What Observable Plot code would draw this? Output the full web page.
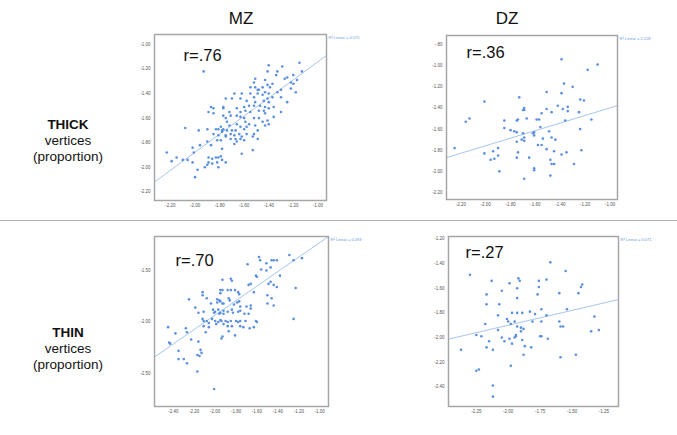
<!DOCTYPE html>
<html><head><meta charset="utf-8">
<script src="https://cdn.jsdelivr.net/npm/d3@7"></script>
<script src="https://cdn.jsdelivr.net/npm/@observablehq/plot@0.6"></script>
<style>
body{margin:0;background:#fff;font-family:"Liberation Sans",Arial,sans-serif;}
#wrap{position:relative;width:677px;height:435px;overflow:hidden;background:#fff;}
.abs{position:absolute;}
.coltitle{font-size:17px;color:#111;transform:translateX(-50%);white-space:nowrap;}
.rowtitle{font-size:13.5px;line-height:16px;color:#111;text-align:center;width:140px;}
.rowtitle b{font-weight:bold;}
#sep{left:0;top:220px;width:677px;height:1px;background:#b5b5b5;}
</style></head><body><div id="wrap"></div>
<script>
// ---------- text ----------
const columnTitles = ["MZ", "DZ"];
const rowTitles = [["THICK", "vertices", "(proportion)"], ["THIN", "vertices", "(proportion)"]];
const rLabels = ["r=.76", "r=.36", "r=.70", "r=.27"];
const r2Labels = ["R\u00B2 Linear = 0.575", "R\u00B2 Linear = 0.128", "R\u00B2 Linear = 0.493", "R\u00B2 Linear = 0.071"];

// ---------- axis domains & ticks ----------
const xDomains = [[-2.33, -0.93], [-2.315, -0.94], [-2.58, -0.916], [-2.468, -1.136]];
const yDomains = [[-2.27, -0.92], [-2.266, -0.715], [-2.82, -1.17], [-2.56, -1.18]];
const xTickValues = [
  [-2.2, -2.0, -1.8, -1.6, -1.4, -1.2, -1.0],
  [-2.2, -2.0, -1.8, -1.6, -1.4, -1.2, -1.0],
  [-2.4, -2.2, -2.0, -1.8, -1.6, -1.4, -1.2, -1.0],
  [-2.25, -2.0, -1.75, -1.5, -1.25]
];
const yTickValues = [
  [-2.2, -2.0, -1.8, -1.6, -1.4, -1.2, -1.0],
  [-2.2, -2.0, -1.8, -1.6, -1.4, -1.2, -1.0, -0.8],
  [-2.5, -2.0, -1.5],
  [-2.4, -2.2, -2.0, -1.8, -1.6, -1.4, -1.2]
];

// ---------- fit lines (endpoints) ----------
const fitLines = [
  [[-2.33, -2.12], [-0.93, -1.09]],
  [[-2.315, -1.87], [-0.94, -1.378]],
  [[-2.58, -2.34], [-0.916, -1.17]],
  [[-2.468, -2.013], [-1.136, -1.692]]
];

// ---------- scatter data ----------
const mzThick = [[-1.15,-1.15],[-1.40,-1.17],[-1.29,-1.18],[-1.13,-1.22],[-1.41,-1.22],[-1.33,-1.22],[-1.93,-1.22],[-1.25,-1.27],[-1.20,-1.25],[-1.27,-1.28],[-1.34,-1.25],[-1.51,-1.28],[-1.20,-1.32],[-1.22,-1.31],[-1.37,-1.32],[-1.17,-1.29],[-1.52,-1.31],[-1.43,-1.29],[-1.55,-1.35],[-1.51,-1.35],[-1.49,-1.37],[-1.45,-1.35],[-1.48,-1.37],[-1.41,-1.33],[-1.39,-1.35],[-1.33,-1.39],[-1.43,-1.39],[-1.49,-1.40],[-1.40,-1.40],[-1.22,-1.36],[-1.18,-1.39],[-1.30,-1.37],[-1.55,-1.40],[-1.52,-1.43],[-1.62,-1.40],[-1.68,-1.40],[-1.70,-1.44],[-1.37,-1.43],[-1.45,-1.41],[-1.30,-1.43],[-1.75,-1.44],[-1.63,-1.44],[-1.58,-1.46],[-1.51,-1.47],[-1.44,-1.46],[-1.41,-1.44],[-1.40,-1.47],[-1.56,-1.50],[-1.52,-1.50],[-1.47,-1.50],[-1.43,-1.51],[-1.60,-1.51],[-1.66,-1.52],[-1.59,-1.54],[-1.63,-1.55],[-1.77,-1.52],[-1.85,-1.52],[-1.87,-1.51],[-1.77,-1.51],[-1.72,-1.55],[-1.55,-1.55],[-1.48,-1.54],[-1.44,-1.54],[-1.40,-1.52],[-1.43,-1.56],[-1.30,-1.55],[-1.89,-1.55],[-1.85,-1.56],[-1.77,-1.58],[-1.75,-1.60],[-1.74,-1.63],[-1.71,-1.58],[-1.66,-1.58],[-1.63,-1.59],[-1.60,-1.60],[-1.52,-1.60],[-1.48,-1.60],[-1.45,-1.63],[-1.41,-1.62],[-1.36,-1.59],[-1.59,-1.63],[-1.56,-1.65],[-1.51,-1.66],[-1.66,-1.65],[-1.63,-1.67],[-1.60,-1.69],[-1.58,-1.67],[-1.67,-1.70],[-1.72,-1.66],[-1.74,-1.70],[-1.77,-1.69],[-1.81,-1.69],[-1.79,-1.67],[-2.08,-1.68],[-1.97,-1.70],[-1.90,-1.69],[-1.83,-1.69],[-1.78,-1.70],[-1.85,-1.73],[-1.81,-1.74],[-1.78,-1.71],[-1.75,-1.74],[-1.71,-1.73],[-1.70,-1.70],[-1.68,-1.74],[-1.64,-1.73],[-1.62,-1.75],[-1.58,-1.73],[-1.52,-1.73],[-1.49,-1.70],[-1.71,-1.77],[-1.67,-1.77],[-1.63,-1.77],[-1.60,-1.78],[-1.66,-1.79],[-1.53,-1.75],[-1.49,-1.77],[-1.43,-1.66],[-1.40,-1.65],[-1.82,-1.78],[-1.90,-1.79],[-1.87,-1.82],[-1.79,-1.78],[-1.75,-1.75],[-1.78,-1.85],[-1.96,-1.82],[-2.02,-1.84],[-2.01,-1.88],[-2.23,-1.88],[-2.15,-1.92],[-2.19,-1.95],[-2.06,-1.94],[-2.02,-1.96],[-1.89,-1.92],[-1.86,-1.93],[-1.83,-1.92],[-1.81,-1.92],[-1.79,-1.91],[-1.89,-1.96],[-1.86,-1.97],[-1.82,-1.96],[-1.78,-1.94],[-1.75,-1.96],[-1.81,-2.00],[-1.90,-1.98],[-1.92,-2.00],[-1.98,-2.02],[-2.00,-2.08],[-2.10,-1.94],[-1.62,-1.89],[-1.53,-1.86],[-1.68,-1.81],[-1.25,-1.47],[-1.36,-1.51]];

const dzThick = [[-1.39,-0.94],[-1.37,-1.17],[-1.30,-1.20],[-1.51,-1.25],[-1.39,-1.26],[-1.73,-1.30],[-2.01,-1.34],[-1.42,-1.38],[-1.51,-1.41],[-1.34,-1.39],[-1.38,-1.41],[-1.69,-1.40],[-1.69,-1.42],[-1.70,-1.42],[-1.34,-1.43],[-1.47,-1.44],[-1.55,-1.45],[-1.67,-1.50],[-2.16,-1.53],[-2.13,-1.50],[-1.85,-1.52],[-1.75,-1.52],[-1.74,-1.51],[-1.59,-1.51],[-1.57,-1.51],[-1.36,-1.52],[-1.56,-1.58],[-1.85,-1.59],[-1.80,-1.61],[-1.77,-1.62],[-1.75,-1.63],[-1.70,-1.64],[-1.61,-1.63],[-1.62,-1.64],[-1.61,-1.66],[-1.49,-1.62],[-1.75,-1.72],[-1.71,-1.70],[-1.69,-1.71],[-1.69,-1.68],[-1.54,-1.69],[-1.47,-1.68],[-1.44,-1.70],[-1.58,-1.75],[-1.55,-1.75],[-2.25,-1.78],[-2.01,-1.83],[-1.94,-1.81],[-1.90,-1.78],[-1.74,-1.82],[-1.51,-1.79],[-1.45,-1.81],[-1.39,-1.84],[-1.35,-1.82],[-1.90,-1.85],[-1.75,-1.87],[-1.65,-1.87],[-1.96,-1.89],[-1.93,-1.88],[-1.48,-1.89],[-1.47,-1.93],[-1.61,-1.97],[-1.61,-1.99],[-1.89,-2.00],[-1.45,-1.93],[-1.69,-2.07],[-1.48,-2.04],[-1.29,-1.93],[-1.10,-0.99],[-1.18,-1.04],[-1.24,-1.32],[-1.21,-1.33],[-1.25,-1.44],[-1.15,-1.51],[-1.24,-1.60],[-1.23,-1.80]];

const mzThin = [[-1.29,-1.35],[-1.17,-1.38],[-1.25,-1.40],[-1.58,-1.37],[-1.57,-1.40],[-1.69,-1.44],[-1.51,-1.43],[-1.46,-1.40],[-1.44,-1.40],[-1.41,-1.40],[-1.47,-1.47],[-1.56,-1.49],[-1.51,-1.50],[-1.38,-1.55],[-1.61,-1.55],[-1.60,-1.56],[-1.47,-1.61],[-1.49,-1.63],[-1.44,-1.64],[-1.41,-1.66],[-1.68,-1.64],[-1.66,-1.63],[-1.63,-1.71],[-1.50,-1.74],[-1.46,-1.77],[-1.50,-1.82],[-1.44,-1.84],[-1.23,-1.67],[-1.25,-1.97],[-1.93,-1.59],[-1.85,-1.58],[-1.84,-1.60],[-1.95,-1.69],[-1.95,-1.72],[-1.93,-1.69],[-1.88,-1.69],[-1.85,-1.69],[-1.81,-1.69],[-1.78,-1.71],[-1.77,-1.73],[-2.12,-1.71],[-2.12,-1.74],[-2.25,-1.78],[-2.08,-1.77],[-1.98,-1.78],[-1.96,-1.79],[-1.98,-1.81],[-1.95,-1.80],[-1.87,-1.77],[-1.86,-1.79],[-1.93,-1.82],[-1.92,-1.82],[-1.82,-1.83],[-1.79,-1.81],[-1.77,-1.80],[-2.04,-1.82],[-1.84,-1.88],[-1.83,-1.91],[-1.88,-1.90],[-1.76,-1.85],[-1.70,-1.85],[-1.66,-1.84],[-1.66,-1.87],[-1.72,-1.92],[-1.78,-1.90],[-1.76,-1.89],[-1.68,-1.92],[-2.19,-1.86],[-2.16,-1.91],[-2.11,-1.90],[-2.02,-1.88],[-2.01,-1.91],[-2.00,-1.90],[-1.97,-1.88],[-1.95,-1.91],[-1.96,-1.92],[-1.92,-1.89],[-1.92,-1.92],[-2.12,-1.97],[-2.11,-1.99],[-2.08,-1.99],[-2.06,-2.01],[-2.06,-2.05],[-2.03,-1.97],[-2.00,-1.99],[-1.99,-2.02],[-1.97,-2.00],[-1.95,-1.98],[-1.94,-1.99],[-1.92,-2.02],[-1.90,-1.99],[-1.88,-2.00],[-1.88,-2.04],[-1.85,-1.99],[-1.84,-2.04],[-1.80,-1.99],[-1.78,-2.00],[-1.76,-1.99],[-1.76,-2.04],[-1.87,-2.09],[-1.81,-2.13],[-1.93,-2.14],[-1.94,-2.16],[-1.71,-1.99],[-1.73,-2.05],[-1.67,-2.06],[-1.63,-2.05],[-1.61,-1.99],[-1.60,-2.00],[-2.45,-2.05],[-2.44,-2.20],[-2.43,-2.21],[-2.38,-2.11],[-2.28,-2.06],[-2.27,-2.10],[-2.23,-2.17],[-2.16,-2.19],[-2.09,-2.10],[-2.11,-2.04],[-2.35,-2.28],[-2.35,-2.36],[-2.30,-2.36],[-2.27,-2.40],[-2.17,-2.32],[-2.15,-2.33],[-2.14,-2.27],[-2.13,-2.30],[-2.17,-2.48],[-2.01,-2.65]];

const dzThin = [[-2.30,-1.49],[-2.13,-1.54],[-1.99,-1.56],[-1.92,-1.52],[-1.91,-1.54],[-1.76,-1.54],[-1.76,-1.59],[-1.70,-1.53],[-1.67,-1.39],[-1.55,-1.46],[-2.17,-1.65],[-2.05,-1.62],[-1.93,-1.60],[-1.93,-1.68],[-1.77,-1.65],[-2.17,-1.73],[-2.07,-1.73],[-1.60,-1.64],[-1.97,-1.80],[-1.93,-1.80],[-1.89,-1.80],[-1.83,-1.79],[-1.79,-1.81],[-1.74,-1.77],[-1.70,-1.82],[-2.08,-1.82],[-2.01,-1.85],[-2.00,-1.87],[-2.18,-1.89],[-1.98,-1.89],[-1.95,-1.87],[-1.93,-1.91],[-1.90,-1.92],[-1.88,-1.93],[-1.90,-1.95],[-1.81,-1.87],[-1.74,-1.87],[-1.60,-1.87],[-1.59,-1.91],[-2.08,-1.94],[-2.25,-1.98],[-2.21,-1.99],[-2.05,-2.00],[-1.94,-1.98],[-1.94,-1.99],[-1.95,-2.00],[-1.99,-2.01],[-2.03,-2.03],[-2.15,-2.03],[-1.89,-2.02],[-1.75,-1.99],[-1.74,-1.99],[-1.69,-2.01],[-1.97,-2.05],[-2.17,-2.08],[-2.12,-2.10],[-1.87,-2.07],[-1.82,-2.08],[-1.88,-2.14],[-1.59,-2.16],[-1.98,-2.23],[-2.25,-2.27],[-2.23,-2.26],[-2.37,-2.10],[-2.12,-2.39],[-2.12,-2.48],[-1.42,-1.57],[-1.43,-1.59],[-1.45,-1.64],[-1.54,-1.77],[-1.325,-1.83],[-1.35,-1.95],[-1.29,-1.94],[-1.57,-1.91],[-1.47,-2.14]];

const panelData = [mzThick, dzThick, mzThin, dzThin];

// ---------- layout (pixels) ----------
const layout = [
  {left: 110, top: 20, width: 260, height: 200, ml: 44, mr: 44, mt: 14, mb: 20, rdx: 29, rdy: 21.5},
  {left: 400, top: 20, width: 270, height: 200, ml: 46, mr: 53, mt: 15, mb: 21, rdx: 20, rdy: 17},
  {left: 110, top: 222, width: 260, height: 206, ml: 44, mr: 42, mt: 14, mb: 22, rdx: 21, rdy: 24},
  {left: 400, top: 222, width: 270, height: 206, ml: 48, mr: 52, mt: 14, mb: 22, rdx: 17, rdy: 16}
];

const dotColor = "#5b8fdf";
const lineColor = "#a7c6ec";
const fmt = d => {
  let s = d.toFixed(2);
  return s.replace(/^-0\./, "-.").replace(/^0\./, ".");
};

const wrap = document.getElementById("wrap");

// column titles
const colX = [241, 507];
columnTitles.forEach((t, i) => {
  const el = document.createElement("div");
  el.className = "abs coltitle";
  el.style.left = colX[i] + "px";
  el.style.top = "9px";
  el.textContent = t;
  wrap.appendChild(el);
});

// row titles
const rowY = [117, 325];
rowTitles.forEach((lines, i) => {
  const el = document.createElement("div");
  el.className = "abs rowtitle";
  el.style.left = "-2px";
  el.style.top = rowY[i] + "px";
  el.innerHTML = "<b>" + lines[0] + "</b><br>" + lines[1] + "<br>" + lines[2];
  wrap.appendChild(el);
});

// separator
const sep = document.createElement("div");
sep.className = "abs";
sep.id = "sep";
wrap.appendChild(sep);

panelData.forEach((pts, i) => {
  const L = layout[i];
  const fit = fitLines[i];
  const chart = Plot.plot({
    width: L.width,
    height: L.height,
    marginLeft: L.ml,
    marginRight: L.mr,
    marginTop: L.mt,
    marginBottom: L.mb,
    x: {domain: xDomains[i]},
    y: {domain: yDomains[i]},
    style: {fontFamily: "Liberation Sans, Arial, sans-serif", background: "transparent", overflow: "visible"},
    marks: [
      Plot.axisX({ticks: xTickValues[i], tickFormat: fmt, tickSize: 0, tickPadding: 3.5, fontSize: 4.5, color: "#555", label: null}),
      Plot.axisY({ticks: yTickValues[i], tickFormat: fmt, tickSize: 0, tickPadding: 4, fontSize: 4.5, color: "#555", label: null}),
      Plot.line(fit, {x: d => d[0], y: d => d[1], stroke: lineColor, strokeWidth: 1, clip: true}),
      Plot.dot(pts, {x: d => d[0], y: d => d[1], r: 1.3, fill: dotColor, stroke: "none"}),
      Plot.frame({stroke: "#a6a6a6", strokeWidth: 1.5}),
      Plot.text([rLabels[i]], {text: d => d, frameAnchor: "top-left", textAnchor: "start", lineAnchor: "middle", dx: L.rdx, dy: L.rdy, fontSize: 16.5, fill: "#111"}),
      Plot.text([r2Labels[i]], {text: d => d, frameAnchor: "top-right", textAnchor: "start", lineAnchor: "middle", dx: 2, dy: 3, fontSize: 4, fill: "#6a9ae0"})
    ]
  });
  chart.style.position = "absolute";
  chart.style.left = L.left + "px";
  chart.style.top = L.top + "px";
  chart.style.maxWidth = "none";
  wrap.appendChild(chart);
});
</script>
</body></html>
